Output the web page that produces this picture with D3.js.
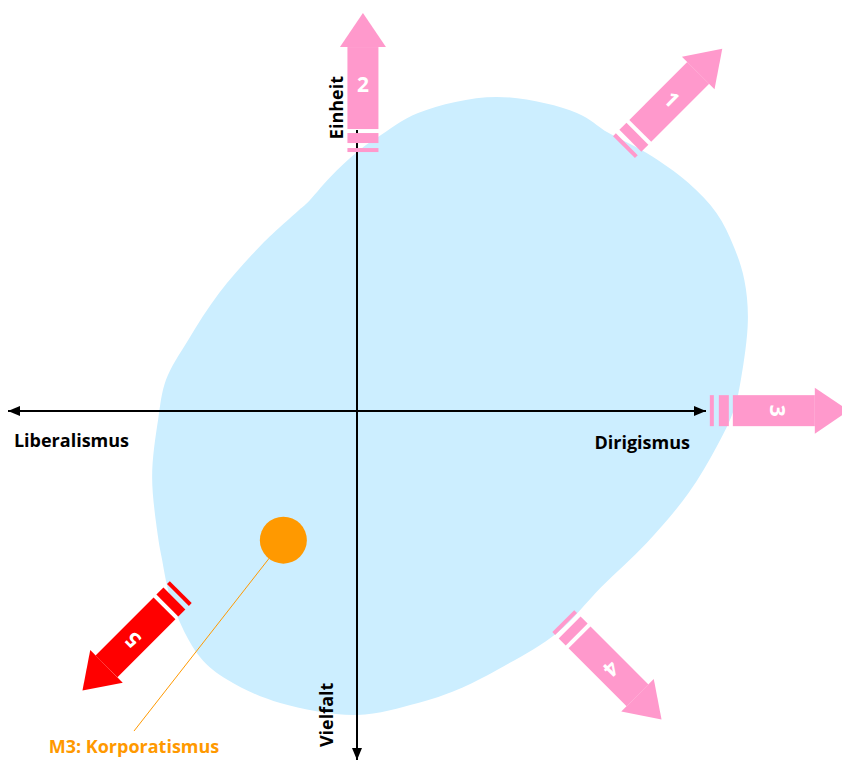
<!DOCTYPE html>
<html>
<head>
<meta charset="utf-8">
<script src="https://cdn.jsdelivr.net/npm/d3@7"></script>
<style>
  html, body { margin: 0; padding: 0; background: #fff; }
  svg { display: block; }
  text { font-family: "Open Sans", "Noto Sans", sans-serif; font-weight: 700; }
</style>
</head>
<body>
<div id="chart"></div>
<script>
// ----------------------
// DATA (axis units: -100..100 on both axes, origin in the middle)
// ----------------------
const axisLabels = ["Liberalismus", "Dirigismus", "Einheit", "Vielfalt"];

// outline of the light blue area
const blobX = [40, 63, 72, 83, 95, 103, 108, 111, 112, 110, 108, 103, 95, 83, 70, 57.3, 40.1, 28.7, 17.5, 0, -22, -37, -45, -53, -56, -57, -58.7, -57, -54.7, -48.4, -39.5, -28, -16.6, -14.3, -7.7, 0, 6, 17.5];
const blobY = [90, 85.4, 79.7, 73.9, 65.3, 56.7, 47, 37.5, 26, 9, 0.3, -10.3, -23.5, -37.8, -50.4, -63.6, -74.2, -79.9, -83.7, -87.1, -83.7, -77.1, -70.5, -55, -41.8, -36.1, -18.9, -2.6, 9, 20.3, 33.8, 47, 57.6, 59.6, 67, 74.2, 78.5, 85.4];

// the five direction arrows
const arrowLabels = ["1", "2", "3", "4", "5"];
const arrowBaseX = [76.5, 1.7, 101.1, 59.1, -50.5];
const arrowBaseY = [75.6, 74.2, 0.1, -60.2, -51.9];
const arrowAngles = [45, 90, 0, -45, -135];   // degrees, counter-clockwise from "right"
const arrowColors = ["#ff99cc", "#ff99cc", "#ff99cc", "#ff99cc", "#ff0000"];

// the model point
const pointName = "M3: Korporatismus";
const pointX = -21.1, pointY = -37.0;
const pointLabelX = -63.9, pointLabelY = -91.7;

// ----------------------
// CHART
// ----------------------
const width = 842, height = 760;

const svg = d3.select("#chart")
  .append("svg")
  .attr("width", width)
  .attr("height", height);

const x = d3.scaleLinear().domain([-100, 100]).range([8, 706]);
const y = d3.scaleLinear().domain([-100, 100]).range([760, 62]);

// light blue area
const blobPts = blobX.map((d, i) => [x(d), y(blobY[i])]);
svg.append("path")
  .attr("d", d3.line().curve(d3.curveCatmullRomClosed)(blobPts))
  .attr("fill", "#cceeff");

// axes with arrowheads
const defs = svg.append("defs");
defs.append("marker")
  .attr("id", "ah")
  .attr("viewBox", "0 0 12 10")
  .attr("refX", 12).attr("refY", 5)
  .attr("markerWidth", 12).attr("markerHeight", 10)
  .attr("markerUnits", "userSpaceOnUse")
  .attr("orient", "auto-start-reverse")
  .append("path")
  .attr("d", "M0,0 L12,5 L0,10 Z")
  .attr("fill", "#000");

svg.append("line")
  .attr("x1", x(-100)).attr("y1", y(0))
  .attr("x2", x(100)).attr("y2", y(0))
  .attr("stroke", "#000").attr("stroke-width", 2)
  .attr("marker-start", "url(#ah)")
  .attr("marker-end", "url(#ah)");

svg.append("line")
  .attr("x1", x(0)).attr("y1", y(80.5))
  .attr("x2", x(0)).attr("y2", y(-100))
  .attr("stroke", "#000").attr("stroke-width", 2)
  .attr("marker-end", "url(#ah)");

// axis labels
svg.append("text")
  .attr("x", x(-98.3)).attr("y", y(-10.3))
  .attr("font-size", 18)
  .text(axisLabels[0]);

svg.append("text")
  .attr("x", x(95.4)).attr("y", y(-10.9))
  .attr("text-anchor", "end")
  .attr("font-size", 18)
  .text(axisLabels[1]);

svg.append("text")
  .attr("transform", `translate(${x(-4.0)},${y(77.9)}) rotate(-90)`)
  .attr("font-size", 18)
  .text(axisLabels[2]);

svg.append("text")
  .attr("transform", `translate(${x(-6.9)},${y(-96.3)}) rotate(-90)`)
  .attr("font-size", 18)
  .text(axisLabels[3]);

// model point with leader line
svg.append("line")
  .attr("x1", x(pointX)).attr("y1", y(pointY))
  .attr("x2", x(pointLabelX)).attr("y2", y(pointLabelY))
  .attr("stroke", "#ff9900").attr("stroke-width", 1);

svg.append("circle")
  .attr("cx", x(pointX)).attr("cy", y(pointY))
  .attr("r", 23.5)
  .attr("fill", "#ff9900");

svg.append("text")
  .attr("x", x(pointLabelX)).attr("y", y(pointLabelY) + 22)
  .attr("text-anchor", "middle")
  .attr("font-size", 18)
  .attr("fill", "#ff9900")
  .text(pointName);

// arrows, built pointing up and rotated into place
const arrows = svg.selectAll(".arrow")
  .data(arrowLabels.map((d, i) => ({
    label: d, bx: arrowBaseX[i], by: arrowBaseY[i], angle: arrowAngles[i], color: arrowColors[i]
  })))
  .enter()
  .append("g")
  .attr("class", "arrow")
  .attr("transform", d => `translate(${x(d.bx)},${y(d.by)}) rotate(${90 - d.angle})`);

const bw = 31;
arrows.append("rect")   // thin stripe
  .attr("x", -bw / 2).attr("y", -4).attr("width", bw).attr("height", 4)
  .attr("fill", d => d.color);
arrows.append("rect")   // thick stripe
  .attr("x", -bw / 2).attr("y", -19).attr("width", bw).attr("height", 10)
  .attr("fill", d => d.color);
arrows.append("rect")   // body
  .attr("x", -bw / 2).attr("y", -105).attr("width", bw).attr("height", 82)
  .attr("fill", d => d.color);
arrows.append("path")   // head
  .attr("d", "M-23,-105 L23,-105 L0,-139 Z")
  .attr("fill", d => d.color);
arrows.append("text")
  .attr("x", 0).attr("y", -68)
  .attr("text-anchor", "middle")
  .attr("dominant-baseline", "central")
  .attr("font-size", 21)
  .attr("fill", "#fff")
  .text(d => d.label);
</script>
</body>
</html>
